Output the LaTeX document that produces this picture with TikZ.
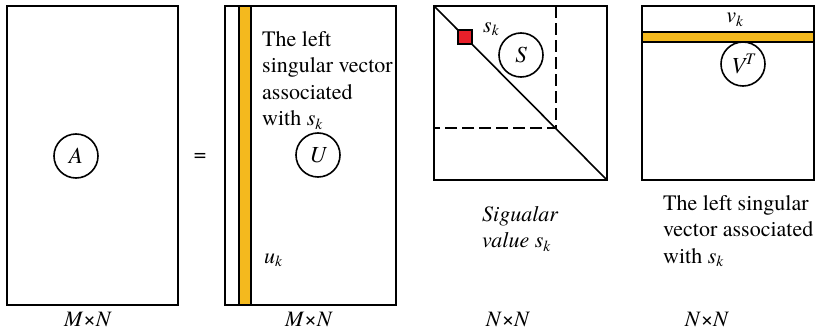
\documentclass[tikz,border=0pt]{standalone}
\usepackage{fontspec}
\setmainfont{texgyretermes}[Extension=.otf,UprightFont=*-regular,ItalicFont=*-italic,BoldFont=*-bold,BoldItalicFont=*-bolditalic]
\definecolor{vecyellow}{HTML}{F4B91E}
\definecolor{valred}{HTML}{E8202A}
\newcommand{\ivar}[2]{\textit{#1}\textsubscript{\textit{#2}}}
\begin{document}
\begin{tikzpicture}[x=1pt,y=-1pt,
  mat/.style={draw,line width=1.8pt},
  lbl/.style={circle,draw,line width=1.6pt,minimum size=44pt,inner sep=0pt,font=\fontsize{23}{26}\selectfont\itshape},
  txt/.style={inner sep=0pt,font=\fontsize{22}{26.5}\selectfont},
  para/.style={txt,align=left,anchor=north west}]
\useasboundingbox (0,0) rectangle (815,332);
% A
\draw[mat] (7,6) rectangle (178,305);
\node[lbl] (A) at (76,156) {A};
\node[txt,anchor=base] (dimA) at (88,326) {\textit{M}×\textit{N}};
\node[txt] (eq) at (200,157) {=};
% U
\draw[mat] (225,6) rectangle (396,305);
\draw[mat,fill=vecyellow] (239,6) rectangle (251,305);
\node[lbl] (U) at (318,155) {U};
\node[para] (utxt) at (262,31) {The left\\singular vector\\associated\\with \ivar{s}{k}};
\node[txt,anchor=base west] (uk) at (264,263) {\ivar{u}{k}};
\node[txt,anchor=base] (dimU) at (309,326) {\textit{M}×\textit{N}};
% S
\draw[mat] (434,6) rectangle (607,180);
\draw[line width=1.6pt] (434,6) -- (607,180);
\draw[line width=1.6pt,dash pattern=on 12pt off 5pt] (556,6) -- (556,128) -- (434,128);
\draw[mat,fill=valred] (458,30) rectangle (472,44);
\node[txt,anchor=base west] (sk) at (483,32) {\ivar{s}{k}};
\node[lbl] (S) at (521,55) {S};
\node[para,font=\fontsize{22}{26.5}\selectfont\itshape] (stxt) at (482,206) {Sigualar\\value \ivar{s}{k}};
\node[txt,anchor=base] (dimS) at (508,326) {\textit{N}×\textit{N}};
% V^T
\draw[mat] (642,6) rectangle (814,180);
\draw[mat,fill=vecyellow] (642,32) rectangle (814,42);
\node[txt,anchor=base] (vk) at (735,23) {\ivar{v}{k}};
\node[lbl] (V) at (743,64) {\textit{V}\textsuperscript{\textit{T}}};
\node[para] (vtxt) at (663,195) {The left singular\\vector associated\\with \ivar{s}{k}};
\node[txt,anchor=base] (dimV) at (707,326) {\textit{N}×\textit{N}};
\end{tikzpicture}
\end{document}
